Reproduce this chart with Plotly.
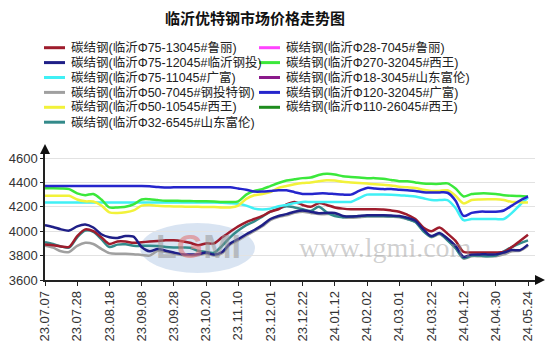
import plotly.graph_objects as go

# ---------------- data ----------------
tick_labels = ["23.07.07", "23.07.28", "23.08.18", "23.09.08", "23.09.28", "23.10.20",
               "23.11.10", "23.12.01", "23.12.22", "24.01.12", "24.02.02", "24.03.01",
               "24.03.22", "24.04.12", "24.04.30", "24.05.24"]
points_per_tick = 4
x_idx = list(range(61))

names = [
    "碳结钢(临沂Φ75-13045#鲁丽)",
    "碳结钢(临沂Φ75-12045#临沂钢投)",
    "碳结钢(临沂Φ75-11045#广富)",
    "碳结钢(临沂Φ50-7045#钢投特钢)",
    "碳结钢(临沂Φ50-10545#西王)",
    "碳结钢(临沂Φ32-6545#山东富伦)",
    "碳结钢(临沂Φ28-7045#鲁丽)",
    "碳结钢(临沂Φ270-32045#西王)",
    "碳结钢(临沂Φ18-3045#山东富伦)",
    "碳结钢(临沂Φ120-32045#广富)",
    "碳结钢(临沂Φ110-26045#西王)",
]
colors = ["#9e1c2c", "#1f1f87", "#40f0f5", "#a0a0a0", "#f2f23a", "#338a8a",
          "#ff44ff", "#3be83b", "#8b1a8b", "#2525cc", "#1e8c1e"]

red_75_13045 = [3890, 3885, 3875, 3872, 3960, 4015, 4000, 3950, 3895, 3915,
                3915, 3905, 3910, 3915, 3920, 3925, 3925, 3918, 3905, 3885,
                3900, 3900, 3950, 3995, 4040, 4075, 4100, 4125, 4160, 4180,
                4220, 4240, 4215, 4200, 4230, 4215, 4195, 4185, 4180, 4180,
                4180, 4180, 4178, 4170, 4160, 4135, 4100, 4030, 4000, 4030,
                3980, 3920, 3830, 3825, 3825, 3825, 3825, 3830, 3870, 3920, 3970]
navy_75_12045 = [4050, 4035, 4015, 4005, 4040, 4055, 4030, 3975, 3950, 3945,
                 3960, 3955, 3870, 3835, 3855, 3840, 3825, 3812, 3810, 3812,
                 3825, 3808, 3830, 3900, 3935, 3975, 4010, 4050, 4100, 4125,
                 4140, 4160, 4170, 4160, 4148, 4150, 4150, 4125, 4120, 4125,
                 4130, 4130, 4130, 4128, 4125, 4110, 4085, 4015, 3960, 3985,
                 3940, 3880, 3790, 3808, 3810, 3810, 3810, 3825, 3845, 3845, 3890]
cyan_75_11045 = [4235, 4235, 4235, 4235, 4235, 4235, 4235, 4235, 4235, 4235,
                 4235, 4235, 4235, 4235, 4235, 4235, 4235, 4235, 4235, 4235,
                 4235, 4235, 4233, 4230, 4225, 4210, 4185, 4178, 4185, 4205,
                 4215, 4230, 4240, 4240, 4240, 4240, 4240, 4240, 4240, 4270,
                 4300, 4300, 4300, 4298, 4295, 4290, 4285, 4270, 4255, 4255,
                 4255, 4190, 4090, 4100, 4100, 4100, 4100, 4100, 4150, 4215, 4275]
gray_50_7045 = [3880, 3865, 3835, 3830, 3880, 3905, 3895, 3855, 3820, 3815,
                3815, 3812, 3805, 3800, 3840, 3830, 3815, 3805, 3800, 3802,
                3815, 3800, 3820, 3890, 3925, 3965, 4000, 4040, 4090, 4115,
                4130, 4150, 4160, 4150, 4140, 4140, 4140, 4115, 4110, 4115,
                4120, 4120, 4120, 4118, 4115, 4100, 4075, 4005, 3950, 3975,
                3930, 3865, 3775, 3795, 3795, 3795, 3795, 3810, 3835, 3840, 3880]
yellow_50_10545 = [4290, 4290, 4290, 4290, 4260, 4245, 4243, 4210, 4155, 4150,
                   4155, 4170, 4210, 4215, 4208, 4205, 4203, 4202, 4200, 4200,
                   4198, 4198, 4195, 4195, 4210, 4265, 4295, 4305, 4320, 4355,
                   4370, 4385, 4395, 4400, 4410, 4418, 4415, 4405, 4400, 4395,
                   4390, 4385, 4380, 4375, 4365, 4360, 4355, 4340, 4330, 4330,
                   4335, 4290, 4228, 4255, 4260, 4262, 4262, 4255, 4240, 4238, 4235]
teal_32_6545 = [3910, 3895, 3875, 3865, 3950, 4005, 3995, 3935, 3870, 3890,
                3893, 3880, 3880, 3880, 3878, 3870, 3867, 3867, 3865, 3840,
                3830, 3823, 3880, 3950, 4005, 4050, 4080, 4120, 4160, 4185,
                4205, 4195, 4180, 4165, 4200, 4155, 4125, 4115, 4120, 4125,
                4125, 4125, 4125, 4122, 4120, 4100, 4075, 4000, 3955, 3980,
                3925, 3860, 3780, 3800, 3800, 3795, 3800, 3835, 3870, 3900, 3925]
magenta_28_7045 = [None] * 61
lime_270_32045 = [4352, 4352, 4350, 4345, 4310, 4295, 4305, 4260, 4195, 4195,
                  4200, 4220, 4260, 4262, 4255, 4250, 4250, 4248, 4248, 4245,
                  4245, 4243, 4240, 4240, 4245, 4300, 4330, 4345, 4370, 4395,
                  4415, 4425, 4435, 4440, 4460, 4470, 4465, 4450, 4445, 4440,
                  4435, 4435, 4430, 4420, 4410, 4410, 4400, 4390, 4388, 4388,
                  4392, 4350, 4285, 4305, 4310, 4310, 4305, 4295, 4290, 4288, 4285]
purple_18_3045 = [None] * 61
blue_120_32045 = [4370, 4370, 4370, 4370, 4370, 4370, 4370, 4370, 4370, 4370,
                  4370, 4370, 4370, 4368, 4362, 4358, 4360, 4360, 4360, 4360,
                  4360, 4360, 4360, 4360, 4350, 4340, 4325, 4325, 4330, 4335,
                  4335, 4320, 4305, 4305, 4310, 4310, 4305, 4300, 4300, 4330,
                  4355, 4350, 4345, 4345, 4340, 4335, 4330, 4320, 4318, 4318,
                  4315, 4250, 4125, 4150, 4160, 4160, 4160, 4170, 4210, 4250, 4285]
green_110_26045 = [None] * 61

series = [red_75_13045, navy_75_12045, cyan_75_11045, gray_50_7045, yellow_50_10545,
          teal_32_6545, magenta_28_7045, lime_270_32045, purple_18_3045,
          blue_120_32045, green_110_26045]

# ---------------- geometry helpers (screen pixel -> paper) ----------------
OFF = 8                     # default page body margin
W, H = 554 - 2 * OFF, 357 - 2 * OFF
L, R, T, B = 45, 535, 154, 280   # plot area in screen pixels
def px(x):
    return (x - L) / (R - L)
def py(y):
    return (B - y) / (B - T)

fig = go.Figure()
draw_order = [3, 5, 0, 1, 2, 6, 8, 10, 4, 7, 9]
for k in draw_order:
    fig.add_trace(go.Scatter(
        x=x_idx, y=series[k], mode="lines", name=names[k],
        line=dict(color=colors[k], width=2.5, shape="spline", smoothing=0.8),
        showlegend=False, hoverinfo="skip"))

shapes = []
annotations = []

# watermark logo
shapes.append(dict(type="circle", xref="paper", yref="paper", layer="below",
                   x0=px(140), x1=px(255), y0=py(273), y1=py(223),
                   fillcolor="rgba(185,205,232,0.55)", line=dict(width=0)))
annotations.append(dict(xref="paper", yref="paper", x=px(198), y=py(246),
                        xanchor="center", yanchor="middle",
                        text="<b><span style='color:rgba(150,150,150,0.55)'>L</span>"
                             "<span style='color:rgba(225,120,120,0.6)'>G</span>"
                             "<span style='color:rgba(150,150,150,0.55)'>MI</span></b>",
                        showarrow=False, font=dict(size=34, family="Liberation Sans")))
annotations.append(dict(xref="paper", yref="paper", x=px(385), y=py(247),
                        xanchor="center", yanchor="middle",
                        text="www.lgmi.com", showarrow=False,
                        font=dict(size=28, family="Liberation Serif",
                                  color="rgba(150,150,150,0.45)")))

# axis arrows
shapes.append(dict(type="path", xref="paper", yref="paper",
                   path=f"M {px(40)} {py(154)} L {px(50)} {py(154)} L {px(45)} {py(144)} Z",
                   fillcolor="#111", line=dict(width=0)))
shapes.append(dict(type="path", xref="paper", yref="paper",
                   path=f"M {px(535)} {py(275)} L {px(535)} {py(285)} L {px(545)} {py(280)} Z",
                   fillcolor="#111", line=dict(width=0)))

# title as annotation (screen y ~17)
annotations.append(dict(xref="paper", yref="paper", x=px(255), y=py(18),
                        xanchor="center", yanchor="middle", showarrow=False,
                        text="<b>临沂优特钢市场价格走势图</b>",
                        font=dict(size=15, color="#111", family="Noto Sans CJK SC")))

# manual legend (two columns)
col1 = [0, 1, 2, 3, 4, 5]
col2 = [6, 7, 8, 9, 10]
row_y = [47.7, 62.6, 77.5, 92.4, 107.3, 122.2]
for col, (lx0, lx1, tx) in ((col1, (44, 65, 69)), (col2, (259, 280, 284))):
    for r, k in enumerate(col):
        yy = py(row_y[r])
        shapes.append(dict(type="line", xref="paper", yref="paper",
                           x0=px(lx0), x1=px(lx1), y0=yy, y1=yy,
                           line=dict(color=colors[k], width=3)))
        annotations.append(dict(xref="paper", yref="paper", x=px(tx), y=yy,
                                xanchor="left", yanchor="middle", showarrow=False,
                                text=names[k],
                                font=dict(size=12.5, color="#222",
                                          family="Liberation Sans, Noto Sans CJK SC")))

fig.update_layout(
    width=W, height=H,
    margin=dict(l=L - OFF, r=W - (R - OFF), t=T - OFF, b=H - (B - OFF), pad=0),
    paper_bgcolor="white", plot_bgcolor="white",
    showlegend=False,
    shapes=shapes, annotations=annotations,
    xaxis=dict(range=[0, 60 + (R - 528) / 8.05], tickmode="array",
               tickvals=[i * points_per_tick for i in range(len(tick_labels))],
               ticktext=tick_labels, tickangle=-90, automargin=False,
               showgrid=False, zeroline=False,
               showline=True, linecolor="#222", linewidth=1.5,
               ticks="outside", ticklen=4, tickcolor="#222",
               tickfont=dict(size=13, color="#333", family="Liberation Sans")),
    yaxis=dict(range=[3600, 3600 + (B - T) / 0.122], tickmode="array",
               tickvals=[3600, 3800, 4000, 4200, 4400, 4600], automargin=False,
               showgrid=True, gridcolor="#e2e2e2", gridwidth=1, zeroline=False,
               showline=True, linecolor="#222", linewidth=1.5,
               ticks="outside", ticklen=3, tickcolor="#222",
               tickfont=dict(size=13, color="#333", family="Liberation Sans")),
)

fig.write_html("out.html")
